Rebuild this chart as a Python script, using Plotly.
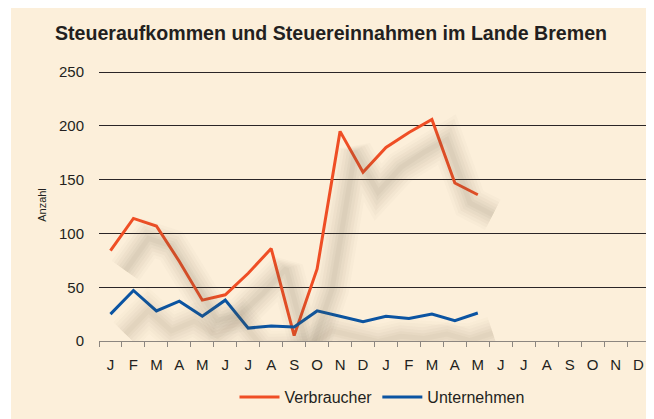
import plotly.graph_objects as go

months = ["J", "F", "M", "A", "M", "J", "J", "A", "S", "O", "N", "D",
          "J", "F", "M", "A", "M", "J", "J", "A", "S", "O", "N", "D"]
verbraucher = [84, 114, 107, 74, 38, 43, 63, 86, 5, 67, 195, 157,
               180, 194, 206, 147, 136]
unternehmen = [25, 47, 28, 37, 23, 38, 12, 14, 13, 28, 23, 18,
               23, 21, 25, 19, 26]
y_ticks = [0, 50, 100, 150, 200, 250]

W, H = 654, 419
OFF = 8  # page body margin
ML, MR, MT, MB = 99 - OFF, 12, 61, 86
plot_w = W - ML - MR
plot_h = H - MT - MB

x_idx = list(range(len(months)))
xr = [-0.5, len(months) - 0.5]
yr = [0, 253]

# shadow offset in pixels -> data units
sdx_px, sdy_px = 15, 20
sdx = sdx_px * (xr[1] - xr[0]) / plot_w
sdy = sdy_px * (yr[1] - yr[0]) / plot_h

RED = "#EF4E25"
BLUE = "#0B54A2"
BG = "#FCEFDA"

fig = go.Figure()

# blurred shadow layers
for series, k in ((verbraucher, 1.0), (unternehmen, 0.8)):
    for w, a in ((34, 0.025), (28, 0.03), (22, 0.035), (16, 0.04), (10, 0.045), (5, 0.045)):
        fig.add_trace(go.Scatter(
            x=x_idx[:len(series)], y=series, mode="lines",
            line=dict(color=f"rgba(100,90,70,{a * k:.3f})", width=w),
            xaxis="x2", yaxis="y2", showlegend=False, hoverinfo="skip"))

fig.add_trace(go.Scatter(x=x_idx[:len(verbraucher)], y=verbraucher, mode="lines",
                         name="Verbraucher", line=dict(color=RED, width=3)))
fig.add_trace(go.Scatter(x=x_idx[:len(unternehmen)], y=unternehmen, mode="lines",
                         name="Unternehmen", line=dict(color=BLUE, width=3)))

fig.update_layout(
    width=W, height=H,
    margin=dict(l=ML, r=MR, t=MT, b=MB),
    paper_bgcolor=BG,
    plot_bgcolor="rgba(0,0,0,0)",
    font=dict(family="Liberation Sans, Arial, sans-serif", color="#231F20"),
    title=dict(text="<b>Steueraufkommen und Steuereinnahmen im Lande Bremen</b>",
               x=(331 - OFF) / W, xanchor="center", y=1 - (33 - OFF) / H,
               yanchor="middle",
               font=dict(size=19.6, color="#231F20")),
    xaxis=dict(range=xr, tickmode="array", tickvals=x_idx, ticktext=months,
               ticks="", showgrid=False, zeroline=False,
               showline=True, linecolor="#8C8680", linewidth=1,
               tickfont=dict(size=15, color="#231F20"),
               minor=dict(tickmode="array",
                          tickvals=[i - 0.5 for i in range(len(months) + 1)],
                          ticks="outside", ticklen=5, tickcolor="#8C8680",
                          showgrid=False),
               ticklabelstandoff=10, fixedrange=True),
    yaxis=dict(range=yr, tickmode="array", tickvals=y_ticks, ticks="",
               showgrid=True, gridcolor="#2A2526", gridwidth=1.2,
               zeroline=False, showline=False,
               tickfont=dict(size=15, color="#231F20"),
               ticklabelstandoff=14,
               title=dict(text="Anzahl", font=dict(size=11, color="#231F20"),
                          standoff=10)),
    xaxis2=dict(range=[xr[0] - sdx, xr[1] - sdx], overlaying="x",
                visible=False),
    yaxis2=dict(range=[yr[0] + sdy, yr[1] + sdy], overlaying="y",
                visible=False),
    legend=dict(orientation="h", x=(382 - OFF - ML) / plot_w, xanchor="center",
                y=-(397 - OFF - (H - MB)) / plot_h, yanchor="middle",
                font=dict(size=16, color="#231F20"),
                bgcolor="rgba(0,0,0,0)", itemwidth=40),
    showlegend=True,
)

# thin white strip at the left edge of the panel
fig.add_shape(type="rect", xref="paper", yref="paper", layer="below",
              x0=-ML / plot_w, x1=(3 - ML) / plot_w,
              y0=-MB / plot_h, y1=(plot_h + MT) / plot_h,
              fillcolor="white", line=dict(width=0))

fig.write_html("out.html")
